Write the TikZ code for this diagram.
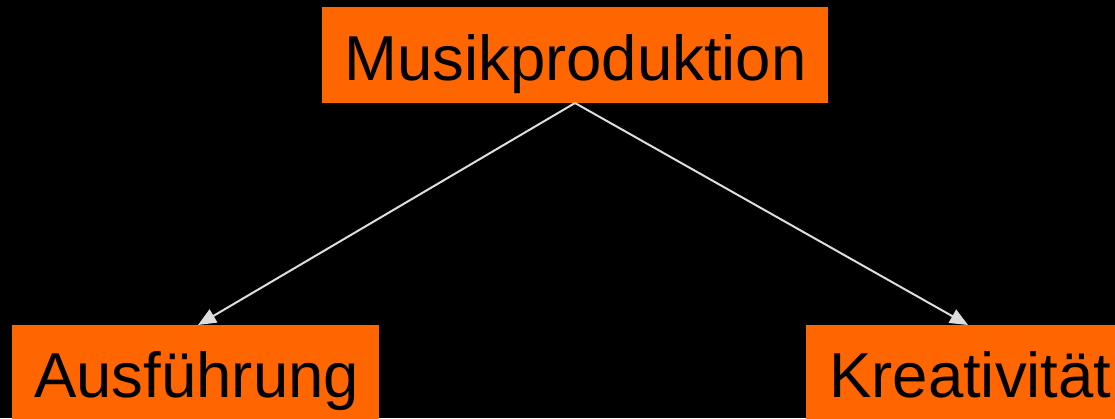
\documentclass[tikz,border=0pt]{standalone}
\usepackage{fontspec}
\setmainfont{Liberation Sans}
\usetikzlibrary{arrows.meta}
\definecolor{boxorange}{HTML}{FF6600}
\definecolor{linegray}{HTML}{DDDDDD}
\begin{document}
\begin{tikzpicture}[x=1pt,y=-1pt,
  box/.style={fill=boxorange, draw=none, inner sep=0pt, anchor=north west},
  lbl/.style={anchor=base west, inner sep=0pt, text=black, font=\fontsize{63.5}{70}\selectfont},
  conn/.style={draw=linegray, line width=2pt, -{Triangle[length=18pt,width=15pt]}}]
\fill[black] (0,0) rectangle (1115,418);
\useasboundingbox (0,0) rectangle (1115,418);
\begin{scope}
\clip (0,0) rectangle (1115,418);
\node[box, minimum width=506pt, minimum height=96pt] (top) at (322,7) {};
\node[box, minimum width=367pt, minimum height=96pt] (left) at (12,325) {};
\node[box, minimum width=320pt, minimum height=96pt] (right) at (806,325) {};
\node[lbl] (toptxt) at (344,80) {Musikproduktion};
\node[lbl] (lefttxt) at (34,397) {Ausführung};
\node[lbl] (righttxt) at (829,397) {Kreativität};
\coordinate (src) at (575,103);
\coordinate (ltip) at (198,325);
\coordinate (rtip) at (968,325);
\draw[conn] (src) -- (ltip);
\draw[conn] (src) -- (rtip);
\end{scope}
\end{tikzpicture}
\end{document}
